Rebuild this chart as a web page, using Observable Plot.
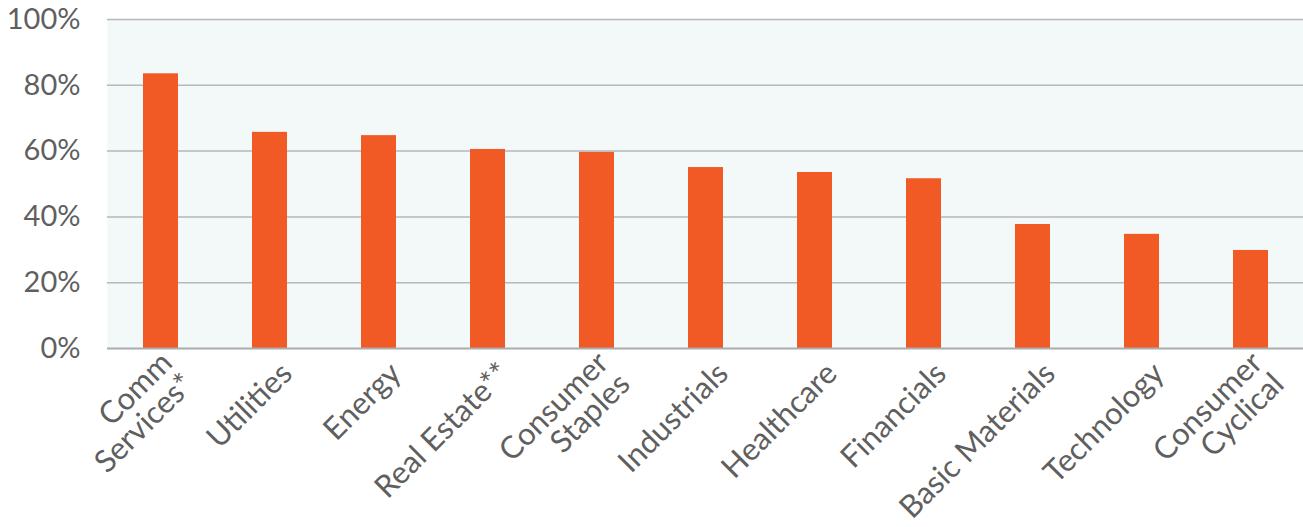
<!DOCTYPE html>
<html>
<head>
<meta charset="utf-8">
<script src="https://cdn.jsdelivr.net/npm/d3@7"></script>
<script src="https://cdn.jsdelivr.net/npm/@observablehq/plot@0.6"></script>
<style>
  html, body { margin: 0; padding: 0; background: #ffffff; }
  #chart { width: 1303px; height: 527px; }
</style>
</head>
<body>
<div id="chart"></div>
<script>
const sectors = ["Comm\nServices*", "Utilities", "Energy", "Real Estate**", "Consumer\nStaples", "Industrials", "Healthcare", "Financials", "Basic Materials", "Technology", "Consumer\nCyclical"];
const shares = [83.5, 65.7, 64.7, 60.5, 59.6, 55.0, 53.5, 51.6, 37.7, 34.7, 29.8];
const yTicks = [0, 20, 40, 60, 80, 100];

const data = sectors.map((s, i) => ({sector: s, value: shares[i]}));

const chart = Plot.plot({
  width: 1303,
  height: 527,
  marginLeft: 107,
  marginRight: 0,
  marginTop: 19,
  marginBottom: 179,
  style: {fontFamily: "Lato, sans-serif", fontSize: "28px", color: "#5f5f5f", background: "#ffffff", overflow: "visible"},
  x: {domain: sectors, paddingInner: 0.68, paddingOuter: 0.32, label: null},
  y: {domain: [0, 100], label: null},
  marks: [
    Plot.frame({fill: "#f3f8f8", stroke: null}),
    Plot.gridY(yTicks.filter(d => d > 0), {stroke: "#b4b9b9", strokeOpacity: 1, strokeWidth: 1.5}),
    Plot.barY(data, {x: "sector", y: "value", fill: "#f15a25"}),
    Plot.ruleY([0], {stroke: "#a9adad", strokeWidth: 2}),
    Plot.axisY({ticks: yTicks, tickSize: 0, tickPadding: 27, tickFormat: d => d + "%", fontSize: 29, fill: "#5f5f5f"}),
    Plot.axisX({tickSize: 0, tickRotate: -45, tickPadding: 20, dx: 17, textAnchor: "end", lineAnchor: "middle", fontSize: 31, fill: "#5f5f5f", lineHeight: 0.98})
  ]
});
document.getElementById("chart").appendChild(chart);
</script>
</body>
</html>
